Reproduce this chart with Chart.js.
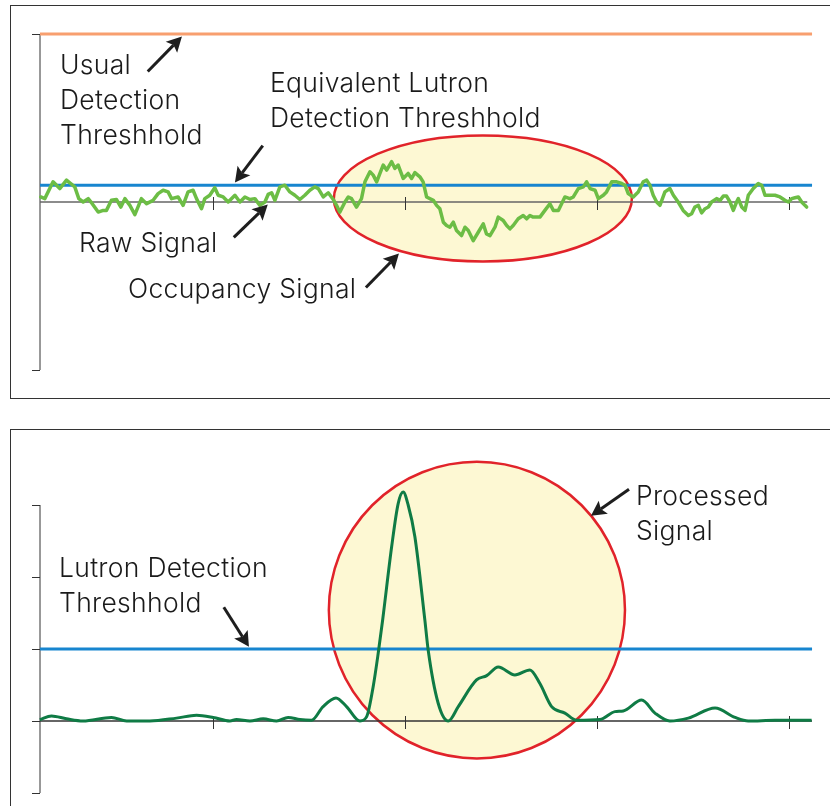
<!DOCTYPE html>
<html>
<head>
<meta charset="utf-8">
<script src="https://cdn.jsdelivr.net/npm/chart.js@4.4.1/dist/chart.umd.min.js"></script>
<style>
  body { margin: 0; background: #fff; }
  #page { position: relative; width: 830px; height: 806px; overflow: hidden; }
  .panel { position: absolute; border: 1px solid #333; box-sizing: border-box; }
  canvas { position: absolute; left: 0; top: 0; }
  .label {
    position: absolute; font-family: Inter, Roboto, "Liberation Sans", sans-serif;
    font-weight: 300; font-size: 26.5px; letter-spacing: 0.3px; line-height: 35px; color: #1a1a1a;
    white-space: nowrap; z-index: 5;
  }
</style>
</head>
<body>
<div id="page">
  <div class="panel" style="left:10px; top:5px; width:840px; height:394px;"></div>
  <div class="panel" style="left:10px; top:429px; width:840px; height:400px;"></div>
  <canvas id="topChart" width="830" height="806"></canvas>
  <canvas id="bottomChart" width="830" height="806"></canvas>

  <div class="label" style="left:60px; top:47px;">Usual<br>Detection<br>Threshhold</div>
  <div class="label" style="left:270px; top:65px;">Equivalent Lutron<br>Detection Threshhold</div>
  <div class="label" style="left:79px; top:225px;">Raw Signal</div>
  <div class="label" style="left:128px; top:271px;">Occupancy Signal</div>
  <div class="label" style="left:59px; top:550px;">Lutron Detection<br>Threshhold</div>
  <div class="label" style="left:636px; top:478px;">Processed<br>Signal</div>
</div>

<script>
// tick positions on the time axis (shared by both panels)
const xTicks = [10, 20, 30, 40];
const xStart = 1;
const xEnd = 41.2;

// top panel: raw sensor signal
const rawTime = [
  1.04, 1.25, 1.68, 2.03, 2.38, 2.60, 2.81, 3.02, 3.25, 3.51, 3.72, 4.03, 4.29, 4.46, 4.72, 4.98,
  5.21, 5.42, 5.68, 5.94, 6.28, 6.55, 6.89, 7.15, 7.41, 7.67, 7.85, 8.19, 8.45, 8.71, 8.97, 9.15,
  9.41, 9.58, 9.84, 10.10, 10.28, 10.54, 10.80, 11.15, 11.41, 11.67, 11.93, 12.19, 12.45, 12.71,
  12.88, 13.06, 13.23, 13.49, 13.75, 14.01, 14.27, 14.53, 14.79, 15.05, 15.31, 15.49, 15.75, 16.01,
  16.27, 16.44, 16.61, 16.88, 17.05, 17.22, 17.48, 17.74, 17.92, 18.18, 18.35, 18.53, 18.70, 18.87,
  19.05, 19.31, 19.48, 19.65, 19.91, 20.17, 20.35, 20.52, 20.78, 20.95, 21.13, 21.48, 21.65, 21.82,
  22.00, 22.17, 22.34, 22.52, 22.69, 22.95, 23.13, 23.30, 23.56, 23.82, 24.08, 24.25, 24.43, 24.69,
  24.86, 25.12, 25.30, 25.47, 25.64, 25.90, 26.16, 26.34, 26.51, 26.68, 27.03, 27.29, 27.55, 27.73,
  27.99, 28.16, 28.33, 28.59, 28.77, 29.03, 29.29, 29.46, 29.64, 29.90, 30.07, 30.33, 30.50, 30.77,
  31.03, 31.29, 31.46, 31.63, 31.89, 32.15, 32.41, 32.59, 32.76, 32.93, 33.11, 33.28, 33.54, 33.80,
  33.98, 34.23, 34.49, 34.76, 34.93, 35.10, 35.28, 35.45, 35.63, 35.80, 35.97, 36.23, 36.41, 36.58,
  36.75, 36.93, 37.10, 37.27, 37.36, 37.54, 37.71, 37.88, 38.14, 38.40, 38.58, 38.75, 39.01, 39.27,
  39.53, 39.79, 39.97, 40.14, 40.31, 40.49, 40.66, 40.83, 40.92
];
const rawSignal = [
  0.3, 0.2, 1.2, 0.8, 1.3, 1.1, 0.9, 0.2, 0.0, 0.2, -0.1, -0.6, -0.5, -0.5, 0.1, 0.15,
  -0.3, 0.2, -0.2, -0.75, 0.2, -0.1, 0.1, 0.5, 0.7, 0.6, 0.2, 0.3, -0.2, 0.6, 0.7, 0.2,
  -0.4, 0.2, 0.4, 0.85, 0.4, 0.3, 0.0, 0.4, 0.0, 0.3, 0.15, 0.2, -0.2, 0.0,
  0.45, 0.55, 0.1, 0.9, 1.0, 0.6, 0.4, 0.15, 0.4, 0.7, 0.9, 0.8, 0.3, 0.55,
  0.15, -0.2, -0.6, 0.0, 0.3, 0.2, -0.3, 0.2, 1.2, 1.8, 1.6, 1.2, 1.7, 2.2,
  1.9, 2.4, 2.0, 2.2, 1.4, 1.7, 1.4, 1.75, 1.5, 1.2, 0.3, 0.1, -0.2, -0.4,
  -1.2, -1.4, -1.5, -1.2, -1.7, -2.0, -1.5, -1.7, -2.3, -1.8, -1.3, -1.9, -2.0, -1.5,
  -0.9, -1.1, -1.4, -1.6, -1.4, -1.0, -0.8, -1.0, -0.8, -0.9, -0.9, -0.5, -0.1, -0.5,
  -0.5, -0.1, 0.3, 0.2, 0.3, 0.8, 0.9, 1.2, 0.8, 0.7, 0.2, 0.4, 0.6, 1.2,
  1.2, 1.1, 1.0, 0.5, 0.3, 0.6, 1.2, 1.3, 1.0, 0.4, 0.0, -0.2, 0.6, 0.8,
  0.4, 0.0, -0.5, -0.8, -0.7, -0.3, -0.2, -0.65, -0.4, -0.3, 0.0, 0.2, 0.1, 0.35,
  0.35, 0.0, -0.5, 0.0, 0.2, -0.3, -0.5, 0.4, 0.8, 1.1, 1.0, 0.4, 0.4, 0.4,
  0.3, 0.1, 0.0, 0.2, 0.25, 0.3, 0.0, -0.2, -0.3
];
const usualThreshold = 10;
const equivalentThreshold = 1;
const topYTicks = [-10, 10];

// bottom panel: processed signal
const processedTime = [
  0.99, 1.60, 2.38, 3.24, 4.72, 5.51, 6.72, 8.11, 9.15, 10.02, 10.89, 11.23, 11.93, 12.62,
  13.32, 13.92, 14.53, 15.14, 15.74, 16.41, 16.96, 17.66, 18.01, 18.35, 18.61, 18.84, 19.31,
  19.65, 19.91, 20.17, 20.52, 21.04, 21.21, 21.73, 22.26, 22.78, 23.73, 24.26, 24.86, 25.73,
  26.51, 27.03, 27.64, 28.33, 28.94, 30.16, 30.94, 31.37, 32.33, 33.02, 33.80, 34.76, 36.15,
  37.19, 37.88, 39.27, 41.18
];
const processedSignal = [
  0.02, 0.07, 0.03, 0.0, 0.05, 0.0, 0.0, 0.04, 0.08, 0.05, 0.0, 0.02, 0.0, 0.03,
  0.0, 0.05, 0.02, 0.01, 0.2, 0.32, 0.2, 0.0, 0.06, 0.48, 0.94, 1.4, 2.42,
  3.02, 3.18, 3.0, 2.56, 1.4, 0.99, 0.25, 0.0, 0.2, 0.57, 0.63, 0.75, 0.64,
  0.71, 0.52, 0.2, 0.11, 0.01, 0.02, 0.13, 0.14, 0.29, 0.11, 0.0, 0.04, 0.18,
  0.05, 0.0, 0.01, 0.01
];
const lutronThreshold = 1;
const bottomYTicks = [-1, 0, 1, 2, 3];

function toPoints(xs, ys) {
  return xs.map((x, i) => ({ x: x, y: ys[i] }));
}
function flatLine(value) {
  return [{ x: xStart, y: value }, { x: xEnd, y: value }];
}

function drawArrow(ctx, x1, y1, x2, y2) {
  const ang = Math.atan2(y2 - y1, x2 - x1);
  const head = 15, half = 8, notch = 3;
  const bx = x2 - head * Math.cos(ang), by = y2 - head * Math.sin(ang);
  ctx.beginPath();
  ctx.moveTo(x1, y1);
  ctx.lineTo(bx + notch * Math.cos(ang), by + notch * Math.sin(ang));
  ctx.stroke();
  ctx.beginPath();
  ctx.moveTo(x2, y2);
  ctx.lineTo(bx - half * Math.sin(ang), by + half * Math.cos(ang));
  ctx.lineTo(bx + notch * Math.cos(ang), by + notch * Math.sin(ang));
  ctx.lineTo(bx + half * Math.sin(ang), by - half * Math.cos(ang));
  ctx.closePath();
  ctx.fill();
}

// ellipse highlight, hand drawn axes and arrows, all placed through the chart scales
const annotate = {
  id: 'annotate',
  beforeDatasetsDraw(chart, args, opts) {
    const ctx = chart.ctx;
    const sx = chart.scales.x, sy = chart.scales.y;
    const e = opts.ellipse;
    const cx = sx.getPixelForValue(e.x), cy = sy.getPixelForValue(e.y);
    const rx = Math.abs(sx.getPixelForValue(e.x + e.rx) - cx);
    const ry = Math.abs(sy.getPixelForValue(e.y + e.ry) - cy);
    ctx.save();
    ctx.beginPath();
    ctx.ellipse(cx, cy, rx, ry, 0, 0, Math.PI * 2);
    ctx.fillStyle = '#fdf8d3';
    ctx.fill();
    ctx.lineWidth = 2.5;
    ctx.strokeStyle = '#e1232a';
    ctx.stroke();

    // y axis
    const x0 = sx.getPixelForValue(xStart);
    ctx.strokeStyle = '#333';
    ctx.lineWidth = 1;
    ctx.beginPath();
    ctx.moveTo(x0, sy.getPixelForValue(opts.yFrom));
    ctx.lineTo(x0, sy.getPixelForValue(opts.yTo));
    opts.yTicks.forEach(v => {
      const p = Math.round(sy.getPixelForValue(v)) + 0.5;
      ctx.moveTo(x0 - 8, p);
      ctx.lineTo(x0, p);
    });
    ctx.stroke();

    // x axis at zero
    const y0 = sy.getPixelForValue(0);
    ctx.strokeStyle = opts.xAxisColor;
    ctx.lineWidth = 1.5;
    ctx.beginPath();
    ctx.moveTo(x0, y0);
    ctx.lineTo(sx.getPixelForValue(opts.xAxisEnd), y0);
    ctx.stroke();
    ctx.strokeStyle = '#333';
    ctx.lineWidth = 1;
    ctx.beginPath();
    xTicks.forEach(t => {
      const p = Math.round(sx.getPixelForValue(t)) + 0.5;
      ctx.moveTo(p, y0 - 5);
      ctx.lineTo(p, y0 + 8);
    });
    ctx.stroke();
    ctx.restore();
  },
  afterDatasetsDraw(chart, args, opts) {
    const ctx = chart.ctx;
    const sx = chart.scales.x, sy = chart.scales.y;
    ctx.save();
    ctx.strokeStyle = '#1e1e1e';
    ctx.fillStyle = '#1e1e1e';
    ctx.lineWidth = 3;
    opts.arrows.forEach(a => {
      drawArrow(ctx,
        sx.getPixelForValue(a[0]), sy.getPixelForValue(a[1]),
        sx.getPixelForValue(a[2]), sy.getPixelForValue(a[3]));
    });
    ctx.restore();
  }
};

function makeChart(id, datasets, yMin, yMax, padding, annot) {
  return new Chart(document.getElementById(id), {
    type: 'line',
    data: { datasets: datasets },
    options: {
      responsive: false,
      animation: false,
      layout: { padding: padding },
      scales: {
        x: { type: 'linear', min: 1, max: 41.25, display: false },
        y: { type: 'linear', min: yMin, max: yMax, display: false }
      },
      plugins: {
        legend: { display: false },
        tooltip: { enabled: false },
        annotate: annot
      }
    },
    plugins: [annotate]
  });
}

makeChart('topChart', [
  { data: toPoints(rawTime, rawSignal), borderColor: '#6cbd45', borderWidth: 3.5, pointRadius: 0,
    tension: 0, borderJoinStyle: 'round', borderCapStyle: 'round', clip: false },
  { data: flatLine(equivalentThreshold), borderColor: '#1785cf', borderWidth: 3, pointRadius: 0, clip: false },
  { data: flatLine(usualThreshold), borderColor: '#f89f6f', borderWidth: 3, pointRadius: 0, clip: false }
], -10, 10, { left: 40, right: 17, top: 34, bottom: 436 }, {
  ellipse: { x: 24.06, y: 0.21, rx: 7.76, ry: 3.75 },
  yFrom: -10, yTo: 10, yTicks: topYTicks, xAxisEnd: 40.95, xAxisColor: '#666',
  arrows: [
    [6.61, 7.77, 8.39, 9.85],
    [12.60, 3.36, 11.15, 1.16],
    [11.09, -2.11, 12.86, -0.15],
    [17.97, -5.09, 19.69, -3.07]
  ]
});

makeChart('bottomChart', [
  { data: toPoints(processedTime, processedSignal), borderColor: '#0f7b45', borderWidth: 3,
    pointRadius: 0, cubicInterpolationMode: 'monotone', clip: false },
  { data: flatLine(lutronThreshold), borderColor: '#1785cf', borderWidth: 3, pointRadius: 0, clip: false }
], -1, 3.25, { left: 40, right: 17, top: 487, bottom: 13 }, {
  ellipse: { x: 23.75, y: 1.54, rx: 7.71, ry: 2.06 },
  yFrom: -1, yTo: 3, yTicks: bottomYTicks, xAxisEnd: 41.2, xAxisColor: '#333',
  arrows: [
    [31.67, 3.22, 29.69, 2.85],
    [10.57, 1.58, 11.88, 1.03]
  ]
});
</script>
</body>
</html>
